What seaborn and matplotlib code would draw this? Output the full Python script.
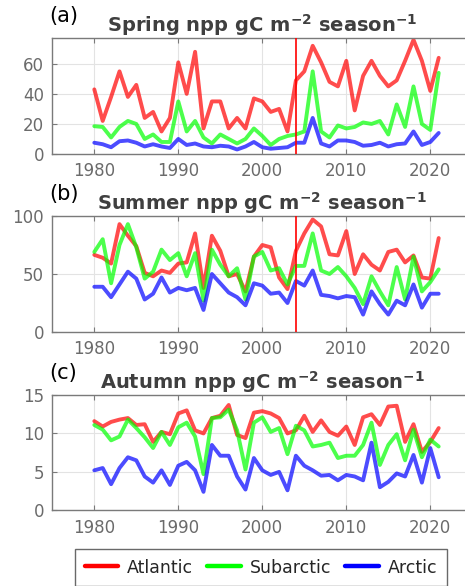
import matplotlib
matplotlib.use("Agg")
import matplotlib.pyplot as plt
import numpy as np
import pandas as pd
import seaborn as sns
from matplotlib.lines import Line2D

years = list(range(1980, 2022))
regions = ["Atlantic", "Subarctic", "Arctic"]

spring_atlantic = [43, 22, 38, 55, 38, 46, 24, 28, 15, 24, 61, 40, 68, 17, 35, 35, 17, 24, 17, 37,
                   35, 28, 30, 15, 49, 55, 72, 61, 48, 45, 62, 29, 52, 62, 52, 45, 49, 62, 76, 62, 42, 64]
spring_subarctic = [18.5, 18, 11, 18, 22, 20, 10, 13, 8, 8, 35, 15, 22, 11, 7, 13, 10, 7, 10, 17,
                    12, 6, 10, 12, 13, 15, 55, 15, 11, 19, 17, 18, 21, 20, 22, 13, 33, 18, 45, 20, 16, 54]
spring_arctic = [7.5, 6.5, 4.5, 8.5, 9, 7.5, 5, 6.5, 5, 4, 10, 6, 7, 5, 4.5, 5.5, 5, 3, 5, 8,
                 4.5, 3.5, 4, 4.5, 7.5, 7.5, 24, 7, 5, 9, 9, 8, 5.5, 6, 7.5, 5, 6.5, 7, 15, 6, 8, 14]

summer_atlantic = [66.5, 64, 59, 93, 83, 74, 51, 48, 53, 51, 59, 60, 85, 38, 83, 70, 48, 50, 35, 65,
                   75, 73, 47, 37, 70, 85, 97, 91, 67, 66, 87, 50, 67, 58, 53, 69, 71, 60, 66, 47, 46, 81]
summer_subarctic = [69, 80, 42, 75, 93, 73, 46, 52, 71, 62, 68, 48, 68, 27, 71, 58, 48, 55, 28, 65,
                    69, 53, 55, 41, 57, 57, 85, 53, 50, 56, 48, 38, 24, 48, 35, 23, 56, 28, 65, 35, 43, 54]
summer_arctic = [39, 39, 30, 41, 52, 46, 28, 33, 47, 34, 38, 36, 38, 19, 50, 42, 34, 30, 23, 42,
                 40, 33, 34, 25, 44, 40, 53, 32, 31, 29, 31, 30, 15, 35, 24, 15, 27, 23, 41, 21, 33, 33]

autumn_atlantic = [11.6, 10.9, 11.5, 11.8, 12.0, 11.1, 11.2, 8.9, 10.2, 9.9, 12.6, 13.0, 10.4, 10.0,
                   12.0, 12.3, 13.7, 9.8, 9.4, 12.7, 12.9, 12.6, 12.0, 10.0, 10.4, 12.3, 10.2, 11.7,
                   10.2, 9.7, 10.9, 8.5, 12.1, 12.5, 11.1, 13.5, 13.6, 8.9, 11.2, 7.6, 8.9, 10.7]
autumn_subarctic = [11.1, 10.5, 9.1, 9.6, 11.8, 10.7, 9.5, 8.1, 10.2, 8.5, 10.8, 11.4, 9.6, 4.7,
                    12.0, 12.1, 13.1, 10.4, 5.3, 11.4, 12.1, 10.2, 10.7, 7.3, 11.0, 10.4, 8.3, 8.5,
                    8.8, 6.8, 7.1, 7.1, 8.5, 11.4, 5.9, 8.5, 9.9, 6.5, 10.5, 6.9, 9.2, 8.3]
autumn_arctic = [5.2, 5.5, 3.4, 5.5, 6.9, 6.5, 4.4, 3.6, 5.2, 3.3, 5.8, 6.3, 5.2, 2.4,
                 8.5, 7.1, 7.1, 4.4, 2.7, 6.8, 5.2, 4.6, 5.0, 2.6, 7.1, 5.8, 5.2, 4.5,
                 4.6, 3.9, 4.6, 4.4, 3.9, 8.8, 3.0, 3.7, 4.8, 4.4, 7.2, 3.6, 8.1, 4.3]

seasons = ["Spring", "Summer", "Autumn"]
panel_labels = ["(a)", "(b)", "(c)"]
season_data = {
    "Spring": [spring_atlantic, spring_subarctic, spring_arctic],
    "Summer": [summer_atlantic, summer_subarctic, summer_arctic],
    "Autumn": [autumn_atlantic, autumn_subarctic, autumn_arctic],
}
ylims = {"Spring": (0, 77), "Summer": (0, 100), "Autumn": (0, 15)}
yticks = {"Spring": [0, 20, 40, 60], "Summer": [0, 50, 100], "Autumn": [0, 5, 10, 15]}
event_year = 2004

palette = {"Atlantic": "#ff0000", "Subarctic": "#00ff00", "Arctic": "#0000ff"}

sns.set_theme(style="white")
plt.rcParams['font.family'] = ['DejaVu Sans']
plt.rcParams['mathtext.fontset'] = 'dejavusans'

W, H = 465, 586
fig = plt.figure(figsize=(W / 100, H / 100), dpi=100)

ax_left = 52.3
ax_right = 472.3
tops = [38.3, 216, 395]
bottoms = [154, 332, 510.3]

tick_gray = "#6b6b6b"
title_gray = "#3f3f3f"

for i, season in enumerate(seasons):
    ax = fig.add_axes([ax_left / W, 1 - bottoms[i] / H, (ax_right - ax_left) / W,
                       (bottoms[i] - tops[i]) / H])
    vals = season_data[season]
    df = pd.DataFrame({
        "year": years * 3,
        "npp": vals[0] + vals[1] + vals[2],
        "region": sum([[r] * len(years) for r in regions], []),
    })
    sns.lineplot(data=df, x="year", y="npp", hue="region", hue_order=regions,
                 palette=palette, linewidth=2.8, alpha=0.7, ax=ax, legend=False)
    if season in ("Spring", "Summer"):
        ax.axvline(event_year, color="#ff0000", linewidth=1.2, zorder=5)
    ax.set_xlim(1975, 2025)
    ax.set_ylim(*ylims[season])
    ax.set_xticks([1980, 1990, 2000, 2010, 2020])
    ax.set_yticks(yticks[season])
    ax.grid(True, color="#e3e3e3", linewidth=0.8)
    ax.set_axisbelow(True)
    ax.set_xlabel("")
    ax.set_ylabel("")
    for s in ax.spines.values():
        s.set_color("#7a7a7a")
        s.set_linewidth(1.0)
    ax.spines["right"].set_visible(False)
    ax.tick_params(axis="both", which="both", direction="in", length=3.5, width=0.8,
                   color="#7a7a7a", labelsize=12, labelcolor=tick_gray, top=True,
                   bottom=True, left=True, pad=6)
    ax.set_title(season + r" npp gC m$^{\mathbf{-2}}$ season$^{\mathbf{-1}}$",
                 fontsize=14, fontweight="bold", color=title_gray, pad=4)
    ax.text(49 / W, 1 - (tops[i] - 22) / H, panel_labels[i], transform=fig.transFigure,
            fontsize=15, color="black", ha="left", va="center")

leg_handles = [Line2D([0], [0], color=palette[r], linewidth=3.2) for r in regions]
leg = fig.legend(leg_handles, regions, loc="upper left", bbox_to_anchor=(75 / W, 1 - 549 / H),
                 ncol=3, fontsize=12.5, frameon=True, fancybox=False, edgecolor="#444444",
                 handlelength=1.95, columnspacing=0.8, handletextpad=0.5, borderpad=0.55,
                 borderaxespad=0)
leg.get_frame().set_linewidth(1.0)

fig.savefig("out.png", dpi=100)
